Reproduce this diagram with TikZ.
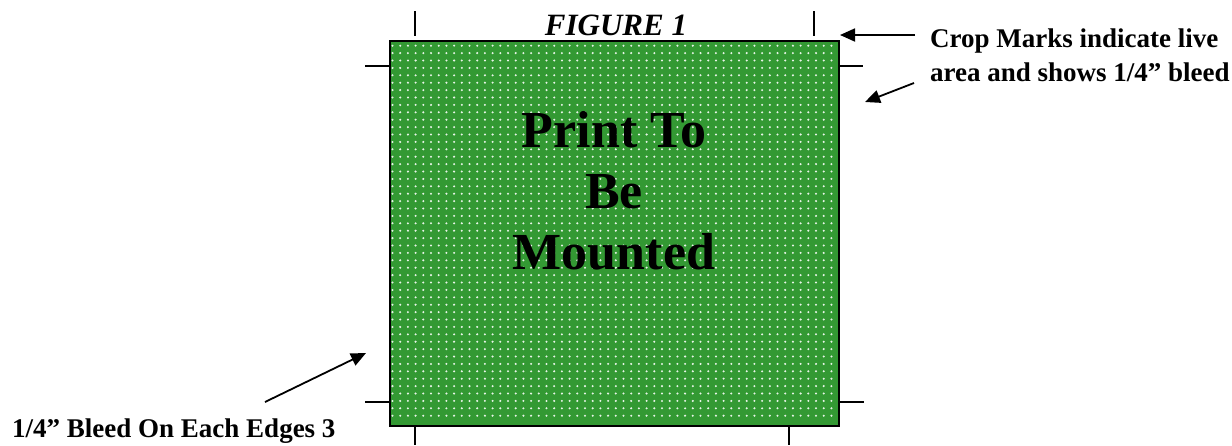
\documentclass[tikz,border=0pt]{standalone}
\usepackage{fontspec}
\setmainfont{Liberation Serif}
\usepackage{tikz}
\usetikzlibrary{arrows.meta, positioning}
\definecolor{printgreen}{HTML}{339933}
\definecolor{dotwhite}{HTML}{E8F4E8}

\begin{document}
\begin{tikzpicture}[
    x=1pt, y=-1pt,
    sheet/.style={draw=black, line width=2.4pt, fill=printgreen},
    cropmark/.style={black, line width=1.5pt},
    callout/.style={-{Triangle[length=15pt, width=13pt]}, black, line width=1.8pt},
    note/.style={inner sep=0pt, font=\fontsize{27}{33}\selectfont\bfseries},
    title/.style={inner sep=0pt, font=\fontsize{31}{36}\selectfont\bfseries\itshape},
    bigtext/.style={inner sep=0pt, align=center, font=\fontsize{52}{61}\selectfont\bfseries},
  ]
  \useasboundingbox (0,0) rectangle (1232,445);
  % Print sheet with dot screen
  \draw[sheet] (390,41) rectangle (839,426);
  \foreach \x in {392.5,400.2,...,836} {
    \foreach \y in {45.7,53.1,...,423} {
      \fill[dotwhite] (\x,\y) circle (1.15);
    }
  }
  \draw[line width=2.4pt] (390,41) rectangle (839,426);
  % Text on the sheet
  \node[bigtext] (print) at (614,191) {Print To\\Be\\Mounted};
  \node[title, anchor=base] (fig) at (616,35) {FIGURE 1};
  % Crop marks
  \draw[cropmark] (415,11) -- (415,36);
  \draw[cropmark] (814,11) -- (814,36);
  \draw[cropmark] (365,66) -- (390,66);
  \draw[cropmark] (839,66) -- (863,66);
  \draw[cropmark] (365,402) -- (390,402);
  \draw[cropmark] (839,402) -- (864,402);
  \draw[cropmark] (415,426) -- (415,445);
  \draw[cropmark] (789,426) -- (789,445);
  % Labels
  \node[note, anchor=base west] (crop1) at (930,47) {Crop Marks indicate live};
  \node[note, anchor=base west] (crop2) at (930,81) {area and shows 1/4'' bleed};
  \node[note, anchor=base west] (bleed) at (12,437) {1/4'' Bleed On Each Edges 3};
  % Arrows
  \coordinate (t1) at (915,35);
  \coordinate (h1) at (840,35);
  \coordinate (t2) at (914,83);
  \coordinate (h2) at (865,102);
  \coordinate (t3) at (265,402);
  \coordinate (h3) at (366,353);
  \draw[callout] (t1) -- (h1);
  \draw[callout] (t2) -- (h2);
  \draw[callout] (t3) -- (h3);
\end{tikzpicture}
\end{document}
